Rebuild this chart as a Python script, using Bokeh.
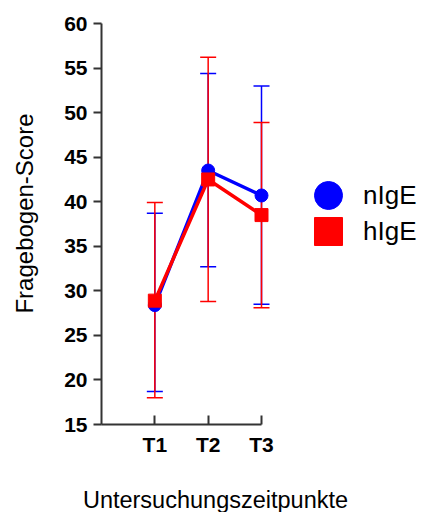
import math
from bokeh.plotting import figure
from bokeh.models import (ColumnDataSource, Whisker, TeeHead, FixedTicker, Legend,
                          LegendItem, Range1d, Label)
from bokeh.embed import file_html
from bokeh.resources import INLINE

# ---- data ----
timepoints = ["T1", "T2", "T3"]
x_pos = [1, 2, 3]
y_ticks = [15, 20, 25, 30, 35, 40, 45, 50, 55, 60]

nige_mean = [28.4, 43.5, 40.7]
nige_lower = [18.7, 32.7, 28.5]
nige_upper = [38.7, 54.4, 53.0]

hige_mean = [28.9, 42.5, 38.5]
hige_lower = [18.0, 28.8, 28.1]
hige_upper = [39.9, 56.2, 48.9]

series_labels = ["nIgE", "hIgE"]

BLUE = "#0000FF"
RED = "#FF0000"
FONT = "Liberation Sans"

# frame spans the whole right side; the x axis itself is bounded to 0..3
p = figure(frame_width=322, frame_height=401, output_backend="svg", toolbar_location=None,
           x_range=Range1d(0, 6.0375), y_range=Range1d(15, 60),
           min_border_left=101, min_border_right=0, min_border_top=23,
           min_border_bottom=88)
p.outline_line_color = None
p.grid.grid_line_color = None
p.background_fill_color = "white"
p.border_fill_color = "white"

src_n = ColumnDataSource(dict(x=x_pos, m=nige_mean, lo=nige_lower, hi=nige_upper))
src_h = ColumnDataSource(dict(x=x_pos, m=hige_mean, lo=hige_lower, hi=hige_upper))

for src, col in [(src_n, BLUE), (src_h, RED)]:
    w = Whisker(source=src, base="x", lower="lo", upper="hi", dimension="height",
                line_color=col, line_width=1.5,
                upper_head=TeeHead(size=16, line_color=col, line_width=1.5),
                lower_head=TeeHead(size=16, line_color=col, line_width=1.5))
    p.add_layout(w)

p.line("x", "m", source=src_n, line_color=BLUE, line_width=3.5)
r_n = p.scatter("x", "m", source=src_n, marker="circle", size=13, fill_color=BLUE, line_color=BLUE)
p.line("x", "m", source=src_h, line_color=RED, line_width=3.5)
r_h = p.scatter("x", "m", source=src_h, marker="square", size=13, fill_color=RED, line_color=RED)

# one legend box per series (marker drawn at 0.4 x glyph box)
for lab, rend, loc in [(series_labels[0], r_n, (192, 194)), (series_labels[1], r_h, (192, 158))]:
    lg = Legend(items=[LegendItem(label=lab, renderers=[rend], index=0)],
                location=loc, glyph_width=70, glyph_height=70,
                padding=0, margin=0, label_standoff=0, border_line_color=None,
                background_fill_alpha=0, label_text_font=FONT,
                label_text_font_size="26px", label_text_color="black")
    p.add_layout(lg, "center")

# axes
for ax in (p.xaxis[0], p.yaxis[0]):
    ax.axis_line_width = 2
    ax.axis_line_color = "#333333"
    ax.major_tick_line_width = 2
    ax.major_tick_line_color = "#333333"
    ax.minor_tick_line_color = None
    ax.major_label_text_font = FONT
    ax.major_label_text_font_style = "bold"
    ax.major_label_text_color = "black"
    ax.major_label_text_font_size = "21px"

p.xaxis.bounds = (0, 3)
p.xaxis.ticker = FixedTicker(ticks=x_pos)
p.xaxis.major_label_overrides = {x: t for x, t in zip(x_pos, timepoints)}
p.xaxis.major_tick_in = 9
p.xaxis.major_tick_out = 0
p.xaxis.major_label_standoff = 8

p.yaxis.ticker = FixedTicker(ticks=y_ticks)
p.yaxis.major_tick_in = 0
p.yaxis.major_tick_out = 8
p.yaxis.major_label_standoff = 6

p.add_layout(Label(x=114, y=-15, x_units="screen", y_units="screen",
                   text="Untersuchungszeitpunkte", text_align="center",
                   text_baseline="middle", text_font=FONT, text_font_size="23.5px",
                   text_color="black"), "below")
p.add_layout(Label(x=-10, y=211, x_units="screen", y_units="screen",
                   text="Fragebogen-Score", angle=math.pi / 2, text_align="center",
                   text_baseline="middle", text_font=FONT, text_font_size="24px",
                   text_color="black"), "left")

open("out.html", "w").write(file_html(p, INLINE))
